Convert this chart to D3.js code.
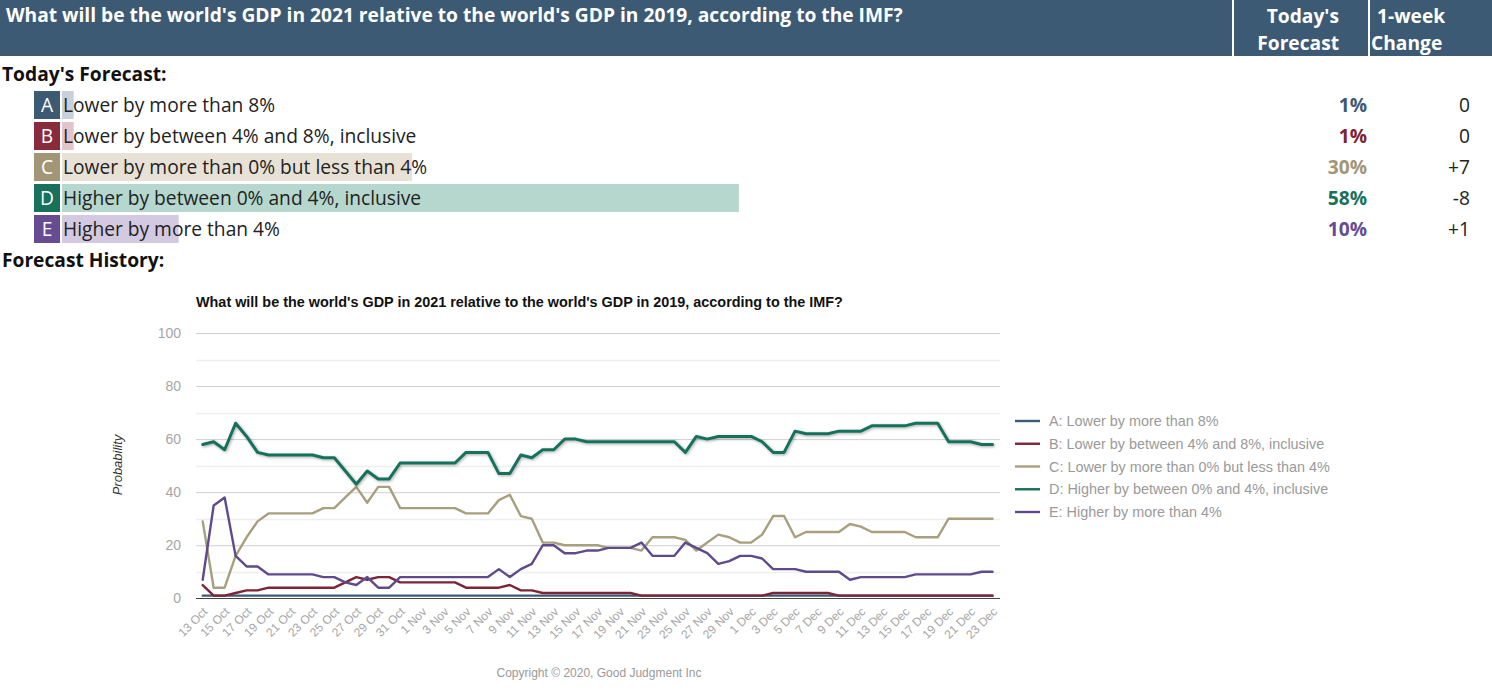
<!DOCTYPE html>
<html>
<head>
<meta charset="utf-8">
<script src="https://cdn.jsdelivr.net/npm/d3@7"></script>
<style>
  html, body { margin: 0; padding: 0; background: #fff; }
  svg { display: block; }
  .os { font-family: "Open Sans", "DejaVu Sans", sans-serif; }
  .ar { font-family: "Liberation Sans", Arial, sans-serif; }
</style>
</head>
<body>
<svg id="c" width="1492" height="692"></svg>
<script>
// ---------------- DATA ----------------
const questionTitle = "What will be the world's GDP in 2021 relative to the world's GDP in 2019, according to the IMF?";
const optionLetters = ["A", "B", "C", "D", "E"];
const optionLabels = [
  "Lower by more than 8%",
  "Lower by between 4% and 8%, inclusive",
  "Lower by more than 0% but less than 4%",
  "Higher by between 0% and 4%, inclusive",
  "Higher by more than 4%"
];
const todayForecast = [1, 1, 30, 58, 10];
const weekChange = ["0", "0", "+7", "-8", "+1"];

const categories = [
  "13 Oct","14 Oct","15 Oct","16 Oct","17 Oct","18 Oct","19 Oct","20 Oct","21 Oct","22 Oct",
  "23 Oct","24 Oct","25 Oct","26 Oct","27 Oct","28 Oct","29 Oct","30 Oct","31 Oct","31 Oct",
  "1 Nov","2 Nov","3 Nov","4 Nov","5 Nov","6 Nov","7 Nov","8 Nov","9 Nov","10 Nov",
  "11 Nov","12 Nov","13 Nov","14 Nov","15 Nov","16 Nov","17 Nov","18 Nov","19 Nov","20 Nov",
  "21 Nov","22 Nov","23 Nov","24 Nov","25 Nov","26 Nov","27 Nov","28 Nov","29 Nov","30 Nov",
  "1 Dec","2 Dec","3 Dec","4 Dec","5 Dec","6 Dec","7 Dec","8 Dec","9 Dec","10 Dec",
  "11 Dec","12 Dec","13 Dec","14 Dec","15 Dec","16 Dec","17 Dec","18 Dec","19 Dec","20 Dec",
  "21 Dec","22 Dec","23 Dec"
];
const tickLabels = [
  "13 Oct","15 Oct","17 Oct","19 Oct","21 Oct","23 Oct","25 Oct","27 Oct","29 Oct","31 Oct",
  "1 Nov","3 Nov","5 Nov","7 Nov","9 Nov","11 Nov","13 Nov","15 Nov","17 Nov","19 Nov",
  "21 Nov","23 Nov","25 Nov","27 Nov","29 Nov",
  "1 Dec","3 Dec","5 Dec","7 Dec","9 Dec","11 Dec","13 Dec","15 Dec","17 Dec","19 Dec","21 Dec","23 Dec"
];
const yTicks = [0, 20, 40, 60, 80, 100];

const seriesA = [1,1,1,1,1,1,1,1,1,1, 1,1,1,1,1,1,1,1,1,1, 1,1,1,1,1,1,1,1,1,1,
  1,1,1,1,1,1,1,1,1,1, 1,1,1,1,1,1,1,1,1,1, 1,1,1,1,1,1,1,1,1,1, 1,1,1,1,1,1,1,1,1,1, 1,1,1];
const seriesB = [5,1,1,2,3,3,4,4,4,4, 4,4,4,6,8,7,8,8,6,6, 6,6,6,6,4,4,4,4,5,3,
  3,2,2,2,2,2,2,2,2,2, 1,1,1,1,1,1,1,1,1,1, 1,1,2,2,2,2,2,2,1,1, 1,1,1,1,1,1,1,1,1,1, 1,1,1];
const seriesC = [29,4,4,16,23,29,32,32,32,32, 32,34,34,38,42,36,42,42,34,34, 34,34,34,34,32,32,32,37,39,31,
  30,21,21,20,20,20,20,19,19,19, 18,23,23,23,22,18,21,24,23,21, 21,24,31,31,23,25,25,25,25,28,
  27,25,25,25,25,23,23,23,30,30, 30,30,30];
const seriesD = [58,59,56,66,61,55,54,54,54,54, 54,53,53,48,43,48,45,45,51,51, 51,51,51,51,55,55,55,47,47,54,
  53,56,56,60,60,59,59,59,59,59, 59,59,59,59,55,61,60,61,61,61, 61,59,55,55,63,62,62,62,63,63,
  63,65,65,65,65,66,66,66,59,59, 59,58,58];
const seriesE = [7,35,38,16,12,12,9,9,9,9, 9,8,8,6,5,8,4,4,8,8, 8,8,8,8,8,8,8,11,8,11,
  13,20,20,17,17,18,18,19,19,19, 21,16,16,16,21,19,17,13,14,16, 16,15,11,11,11,10,10,10,10,7,
  8,8,8,8,8,9,9,9,9,9, 9,10,10];

const seriesNames = [
  "A: Lower by more than 8%",
  "B: Lower by between 4% and 8%, inclusive",
  "C: Lower by more than 0% but less than 4%",
  "D: Higher by between 0% and 4%, inclusive",
  "E: Higher by more than 4%"
];

// ---------------- STYLE ----------------
const boxColors  = ["#3d5a74", "#8a2a3d", "#a39676", "#17715b", "#674b93"];
const barColors  = ["#c8d0d9", "#e3c4ca", "#e8e1d5", "#b5d7cd", "#d3c9e0"];
const pctColors  = ["#3d5a74", "#7e2235", "#a39676", "#17715b", "#674b93"];
const lineColors = ["#3d5a74", "#7c2537", "#a89f7e", "#17715b", "#5f4a8b"];
const headerColor = "#3d5a74";
const FS = 19.2;

const svg = d3.select("#c");
const defs = svg.append("defs");
const f = defs.append("filter").attr("id", "sh").attr("x", "-5%").attr("y", "-20%").attr("width", "110%").attr("height", "140%");
f.append("feDropShadow").attr("dx", 1).attr("dy", 1).attr("stdDeviation", 1.6).attr("flood-color", "#000").attr("flood-opacity", 0.35);

// ---------------- HEADER ----------------
svg.append("rect").attr("x", 0).attr("y", 0).attr("width", 1232).attr("height", 56).attr("fill", headerColor);
svg.append("rect").attr("x", 1234).attr("y", 0).attr("width", 134).attr("height", 56).attr("fill", headerColor);
svg.append("rect").attr("x", 1370).attr("y", 0).attr("width", 122).attr("height", 56).attr("fill", headerColor);

const hdr = svg.append("g").attr("class", "os").attr("fill", "#fff").attr("font-weight", "bold").attr("font-size", FS);
hdr.append("text").attr("x", 6).attr("y", 22).text(questionTitle);
hdr.append("text").attr("x", 1339).attr("y", 23).attr("text-anchor", "end").text("Today's");
hdr.append("text").attr("x", 1339).attr("y", 50).attr("text-anchor", "end").text("Forecast");
hdr.append("text").attr("x", 1377).attr("y", 23).text("1-week");
hdr.append("text").attr("x", 1371).attr("y", 50).text("Change");

svg.append("text").attr("class", "os").attr("x", 2).attr("y", 81).attr("font-weight", "bold")
  .attr("font-size", FS).attr("fill", "#111").text("Today's Forecast:");

// ---------------- TODAY'S FORECAST ROWS ----------------
const barScale = d3.scaleLinear().domain([0, 100]).range([0, 1167]);
const rows = svg.append("g").attr("class", "os").attr("font-size", FS);
optionLetters.forEach((L, i) => {
  const y0 = 91 + i * 31;
  rows.append("rect").attr("x", 34).attr("y", y0).attr("width", 26).attr("height", 28).attr("fill", boxColors[i]);
  rows.append("text").attr("x", 47).attr("y", y0 + 21).attr("text-anchor", "middle").attr("fill", "#fff").text(L);
  rows.append("rect").attr("x", 62).attr("y", y0).attr("width", barScale(todayForecast[i])).attr("height", 28).attr("fill", barColors[i]);
  rows.append("text").attr("x", 63).attr("y", y0 + 21).attr("fill", "#222").text(optionLabels[i]);
  rows.append("text").attr("x", 1367).attr("y", y0 + 21).attr("text-anchor", "end").attr("font-weight", "bold")
    .attr("fill", pctColors[i]).text(todayForecast[i] + "%");
  rows.append("text").attr("x", 1470).attr("y", y0 + 21).attr("text-anchor", "end").attr("fill", "#222").text(weekChange[i]);
});

svg.append("text").attr("class", "os").attr("x", 2).attr("y", 267).attr("font-weight", "bold")
  .attr("font-size", FS).attr("fill", "#111").text("Forecast History:");

// ---------------- CHART ----------------
const plotL = 196, plotR = 1000;
const x = d3.scalePoint().domain(d3.range(categories.length)).range([202.7, 992.5]);
const y = d3.scaleLinear().domain([0, 100]).range([598.3, 333]);

const chart = svg.append("g").attr("class", "ar");

chart.append("text").attr("x", 196).attr("y", 307).attr("font-size", 14.4).attr("font-weight", "bold")
  .attr("fill", "#111").text(questionTitle);

// minor grid
chart.append("g").selectAll("line").data(d3.range(10, 100, 20)).join("line")
  .attr("x1", plotL).attr("x2", plotR).attr("y1", d => Math.round(y(d)) + 0.5).attr("y2", d => Math.round(y(d)) + 0.5)
  .attr("stroke", "#efefef").attr("stroke-width", 1.5);

// major grid + y labels
const yAxis = d3.axisLeft(y).tickValues(yTicks).tickSize(-(plotR - plotL)).tickPadding(15);
const yg = chart.append("g").attr("transform", `translate(${plotL},0)`).call(yAxis);
yg.select(".domain").remove();
yg.selectAll(".tick line").attr("stroke", "#cfcfcf");
yg.selectAll(".tick text").attr("fill", "#a6a6a6").attr("font-size", 14).attr("font-family", "Liberation Sans, Arial, sans-serif");
yg.selectAll(".tick").filter(d => d === 0).select("line").remove();

chart.append("text").attr("transform", "translate(122,465) rotate(-90)").attr("text-anchor", "middle")
  .attr("font-size", 13).attr("font-style", "italic").attr("fill", "#333").text("Probability");

// x axis
const evenIdx = d3.range(0, categories.length, 2);
const xAxis = d3.axisBottom(x).tickValues(evenIdx).tickSize(0).tickFormat(i => tickLabels[i / 2]);
const xg = chart.append("g").attr("transform", `translate(0,${598.5})`).call(xAxis);
xg.select(".domain").remove();
xg.selectAll(".tick text").attr("fill", "#a6a6a6").attr("font-size", 12).attr("font-family", "Liberation Sans, Arial, sans-serif")
  .attr("text-anchor", "end").attr("dy", null).attr("y", 0)
  .attr("transform", "translate(5,14) rotate(-45)");
chart.append("line").attr("x1", plotL).attr("x2", plotR).attr("y1", 598.5).attr("y2", 598.5)
  .attr("stroke", "#444").attr("stroke-width", 1);

// lines
const allSeries = [seriesA, seriesB, seriesC, seriesD, seriesE];
const line = d3.line().x((d, i) => x(i)).y(d => y(d));
const lg = chart.append("g").attr("fill", "none").attr("stroke-linejoin", "round").attr("stroke-linecap", "round");
allSeries.forEach((s, k) => {
  lg.append("path").datum(s).attr("d", line).attr("stroke", lineColors[k])
    .attr("stroke-width", k === 3 ? 3 : 2.4)
    .attr("filter", k === 3 ? "url(#sh)" : null);
});

// legend
const leg = chart.append("g");
seriesNames.forEach((n, k) => {
  const yy = 421 + k * 22.75;
  leg.append("line").attr("x1", 1015).attr("x2", 1040).attr("y1", yy).attr("y2", yy)
    .attr("stroke", lineColors[k]).attr("stroke-width", 2.4);
  leg.append("text").attr("x", 1049).attr("y", yy + 5).attr("font-size", 14.4).attr("fill", "#9a9a9a").text(n);
});

chart.append("text").attr("x", 599).attr("y", 677).attr("text-anchor", "middle").attr("font-size", 12)
  .attr("fill", "#999").text("Copyright \u00A9 2020, Good Judgment Inc");
</script>
</body>
</html>
